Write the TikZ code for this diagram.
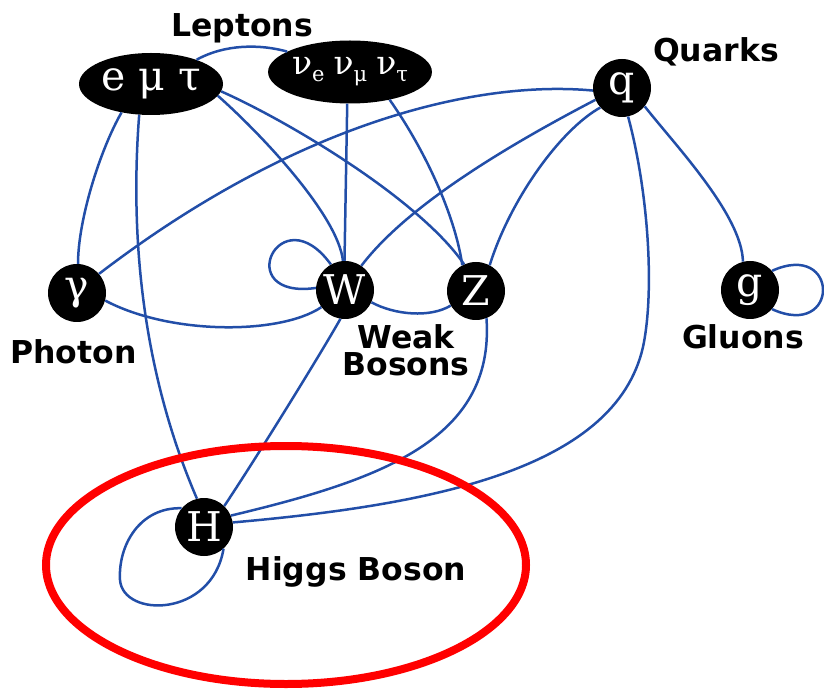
\documentclass[tikz,border=0pt]{standalone}
\usepackage{fontspec}
\setmainfont{DejaVu Sans}
\newfontfamily\partfont{DejaVu Serif}
\usetikzlibrary{shapes.geometric}
\definecolor{linkblue}{RGB}{34,78,168}
\definecolor{ringred}{RGB}{255,0,0}
\newcommand{\nusub}[1]{ν\raisebox{-7pt}{\fontsize{21}{21}\selectfont #1}}
\begin{document}
\begin{tikzpicture}[x=1pt,y=1pt,
  particle/.style={circle,fill=black,minimum size=58pt,inner sep=0pt,text=white,
    font=\partfont\fontsize{41}{41}\selectfont},
  group/.style={ellipse,fill=black,inner sep=0pt,text=white,
    font=\partfont\fontsize{41}{41}\selectfont},
  lbl/.style={font=\bfseries\fontsize{31.5}{27}\selectfont,anchor=base,align=center,inner sep=0pt},
  link/.style={draw=linkblue,line width=2.5pt},
  ring/.style={draw=ringred,line width=8pt}]
\useasboundingbox (0,0) rectangle (824,689);

% particle nodes
\node[group,minimum width=144pt,minimum height=62pt] (lep) at (151,605) {e μ τ};
\node[group,minimum width=160pt,minimum height=63pt,
  font=\partfont\fontsize{33}{33}\selectfont] (nu) at (350,617)
  {\nusub{e}\hspace{9pt}\nusub{μ}\hspace{9pt}\nusub{τ}};
\node[particle] (q) at (622,601) {q};
\node[particle] (g) at (750,399) {g};
\node[particle] (gam) at (77,396) {γ};
\node[particle] (W) at (345,399) {W};
\node[particle] (Z) at (476,398) {Z};
\node[particle] (H) at (204,162) {H};

% labels
\node[lbl] (tlep) at (242,652) {Leptons};
\node[lbl] (tq) at (716,627) {Quarks};
\node[lbl] (tg) at (743,341) {Gluons};
\node[lbl] (tgam) at (73.5,326) {Photon};
\node[lbl] (tweak) at (406,314) {Weak\\Bosons};
\node[lbl] (th) at (356,109) {Higgs Boson};

% connectors
\begin{scope}[link]
\draw (lep.28) .. controls (225,645) and (260,645) .. (nu.162);
\draw (lep.224) .. controls (100,539) and (78,469) .. (gam.88);
\draw (lep.249) .. controls (128,429) and (150,299) .. (H.104);
\draw (lep.350) .. controls (260,556) and (338,474) .. (W.94);
\draw (lep.354) .. controls (290,567) and (420,489) .. (Z.114);
\draw (nu.265) -- (W.91);
\draw (nu.325) .. controls (425,539) and (455,474) .. (Z.118);
\draw (q.185) .. controls (480,609) and (300,569) .. (gam.41);
\draw (q.204) .. controls (480,529) and (400,474) .. (W.56);
\draw (q.222) .. controls (560,559) and (510,489) .. (Z.62);
\draw (q.321) .. controls (675,544) and (742,474) .. (g.104);
\draw (q.282) .. controls (648,499) and (655,399) .. (643,342)
      .. controls (615,219) and (430,184) .. (H.9);
\draw (Z.291) .. controls (495,249) and (380,209) .. (H.23);
\draw (W.261) .. controls (320,334) and (255,229) .. (H.46);
\draw (gam.345) .. controls (170,354) and (280,354) .. (W.216);
\draw (W.335) .. controls (395,374) and (430,371) .. (Z.210);
\draw (W.119) .. controls (280,495) and (230,389) .. (W.176);
\draw (g.41) .. controls (840,449) and (840,349) .. (g.319);
\draw (H.140) .. controls (140,182) and (118,144) .. (120,109)
      .. controls (123,71) and (212,71) .. (H.312);
\end{scope}

% highlight ring
\draw[ring] (286,124) ellipse [x radius=240, y radius=119];
\end{tikzpicture}
\end{document}
